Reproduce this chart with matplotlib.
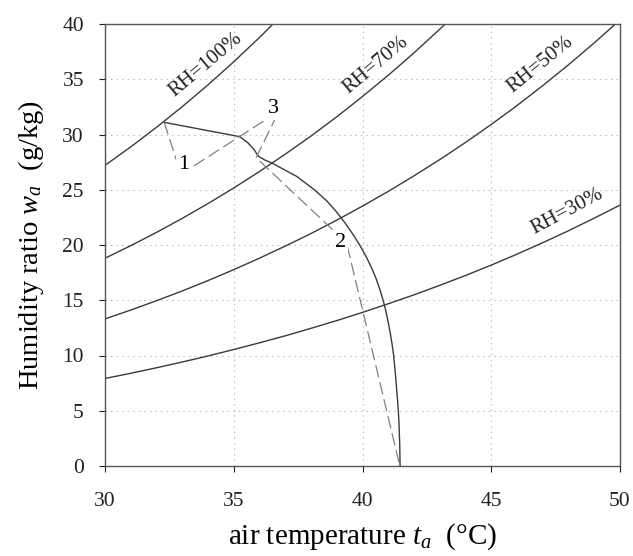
import matplotlib
matplotlib.use("Agg")
import matplotlib.pyplot as plt

plt.rcParams['font.family'] = ['Liberation Serif', 'DejaVu Serif']
plt.rcParams['mathtext.fontset'] = 'custom'
plt.rcParams['mathtext.rm'] = 'Liberation Serif'
plt.rcParams['mathtext.it'] = 'Liberation Serif:italic'
plt.rcParams['lines.scale_dashes'] = False

# ---- data ----
temps = [30, 31, 32, 33, 34, 35, 36, 37, 38, 39, 40, 41, 42, 43, 44,
         45, 46, 47, 48, 49, 50]
rh100 = [27.21, 28.88, 30.65, 32.52, 34.49, 36.58, 38.78, 41.10]
rh70 = [18.80, 19.94, 21.14, 22.41, 23.75, 25.16, 26.65, 28.22, 29.86,
        31.60, 33.44, 35.36, 37.39, 39.53, 41.78]
rh50 = [13.31, 14.11, 14.96, 15.84, 16.78, 17.77, 18.81, 19.90, 21.04,
        22.25, 23.52, 24.85, 26.26, 27.73, 29.28, 30.91, 32.62, 34.42,
        36.31, 38.29, 40.37]
rh30 = [7.92, 8.39, 8.89, 9.41, 9.96, 10.54, 11.15, 11.78, 12.46, 13.16,
        13.90, 14.68, 15.49, 16.35, 17.24, 18.18, 19.17, 20.21, 21.29,
        22.43, 23.61]
rh_labels = ["RH=100%", "RH=70%", "RH=50%", "RH=30%"]

meas_t = [32.3, 35.24, 35.55, 35.8, 35.95, 36.2, 36.5, 37.45, 38.13, 38.61,
          38.99, 39.32, 39.62, 39.89, 40.13, 40.34, 40.52, 40.67, 40.80,
          40.91, 41.0, 41.08, 41.15, 41.21, 41.29, 41.36, 41.39, 41.415,
          41.445, 41.46]
meas_w = [31.1, 29.8, 29.25, 28.6, 28.05, 27.7, 27.4, 26.2, 25.0, 24.0,
          23.0, 22.0, 21.0, 20.0, 19.0, 18.0, 17.0, 16.0, 15.0,
          14.0, 13.0, 12.0, 11.0, 10.0, 8.0, 6.0, 5.0, 4.0,
          2.0, 0.0]

model_t = [32.3, 32.95, 36.75, 35.87, 39.38, 41.45]
model_w = [31.1, 26.4, 32.1, 27.9, 20.2, 0.0]

point_names = ["1", "2", "3"]
point_t = [33.04, 39.16, 36.54]
point_w = [27.33, 20.21, 32.37]

x_ticks = [30, 35, 40, 45, 50]
y_ticks = [0, 5, 10, 15, 20, 25, 30, 35, 40]

# ---- figure ----
fig = plt.figure(figsize=(6.33, 5.56), dpi=100)
ax = fig.add_axes([105/633, 90/556, 515/633, 442/556])

line_col = '#3a3a3a'
ax.plot(temps[:len(rh100)], rh100, color=line_col, lw=1.0)
ax.plot(temps[:len(rh70)], rh70, color=line_col, lw=1.0)
ax.plot(temps, rh50, color=line_col, lw=1.0)
ax.plot(temps, rh30, color=line_col, lw=1.0)

ax.plot(meas_t, meas_w, color=line_col, lw=1.0, zorder=3)
ax.plot(model_t, model_w, color='#808080', lw=0.9, dashes=(9, 3.6), zorder=3)

for name, t, w in zip(point_names, point_t, point_w):
    ax.text(t, w, name, fontsize=16, ha='center', va='center', zorder=5,
            bbox=dict(boxstyle='square,pad=0.08', fc='white', ec='none'))

rh_pos = [(33.9, 36.3, 40), (40.5, 36.3, 40), (46.9, 36.3, 39), (47.95, 23.0, 28)]
for lab, (t, w, rot) in zip(rh_labels, rh_pos):
    ax.text(t, w, lab, fontsize=15, ha='center', va='center', rotation=rot,
            rotation_mode='anchor', color='#222222')

ax.set_xlim(30, 50)
ax.set_ylim(0, 40)
ax.set_xticks(x_ticks)
ax.set_yticks(y_ticks)
ax.tick_params(direction='out', length=4, width=0.8, labelsize=15.5,
               colors='#222222')
ax.tick_params(axis='x', pad=14.5)
ax.tick_params(axis='y', pad=11.2)
ax.grid(True, color='#b8b8b8', linestyle=(0, (1, 3)), linewidth=0.8)
ax.set_axisbelow(True)
for s in ax.spines.values():
    s.set_color('#555555')
    s.set_linewidth(1.0)

ax.set_xlabel(r"air temperature $t_a$  (°C)", fontsize=21, labelpad=8)
ax.set_ylabel(r"Humidity ratio $w_a$  (g/kg)", fontsize=20.5, labelpad=11.5)

fig.savefig("out.png", dpi=100)
